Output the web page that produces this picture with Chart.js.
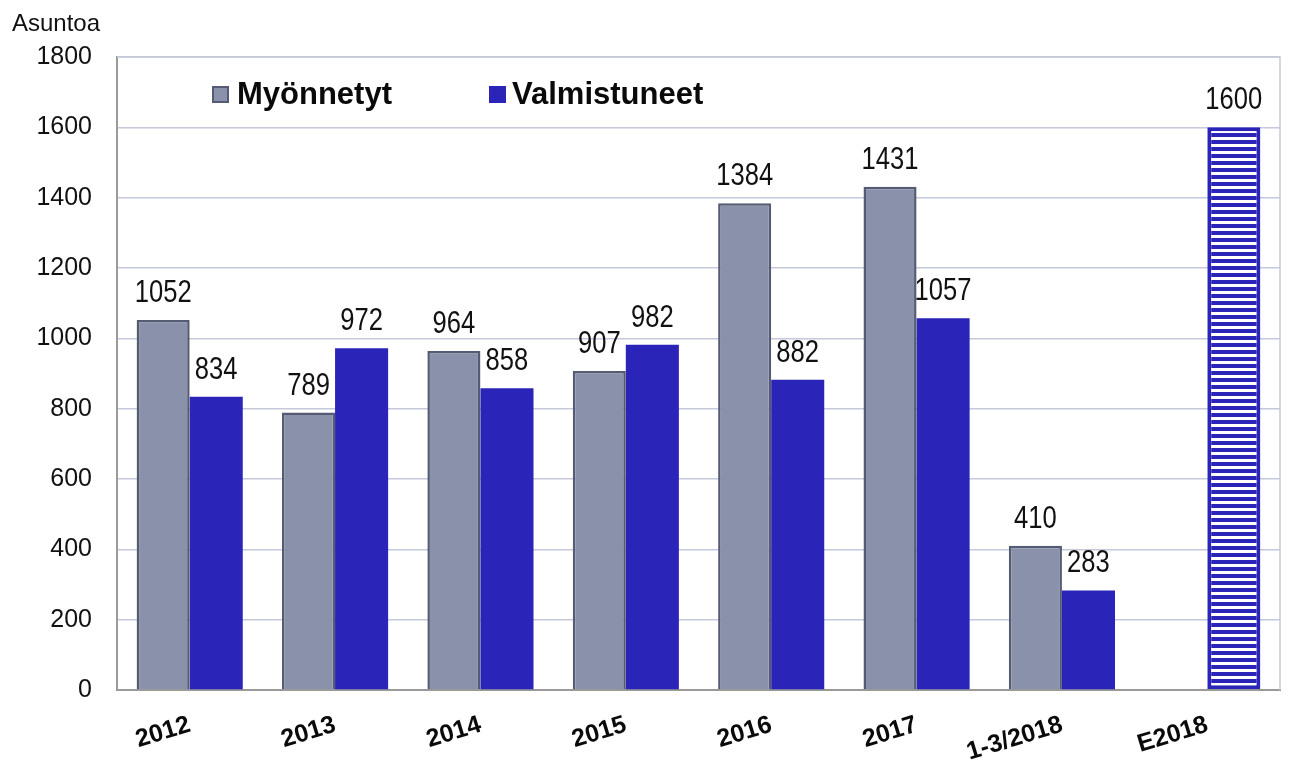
<!DOCTYPE html>
<html>
<head>
<meta charset="utf-8">
<script src="https://cdn.jsdelivr.net/npm/chart.js@4.4.1/dist/chart.umd.min.js"></script>
<style>
  html, body { margin: 0; padding: 0; background: #ffffff; }
  #wrap { position: relative; width: 1294px; height: 762px; }
  canvas { display: block; }
</style>
</head>
<body>
<div id="wrap"><canvas id="c" width="1294" height="762"></canvas></div>
<script>
const categories = ['2012', '2013', '2014', '2015', '2016', '2017', '1-3/2018', 'E2018'];
const myonnetyt = [1052, 789, 964, 907, 1384, 1431, 410, null];
const valmistuneet = [834, 972, 858, 982, 882, 1057, 283, 1600];
const estimateFlags = [false, false, false, false, false, false, false, true];
const seriesNames = ['Myönnetyt', 'Valmistuneet'];
const yAxisUnit = 'Asuntoa';
const yMin = 0, yMax = 1800, yStep = 200;

const FONT = '"Liberation Sans", Arial, Helvetica, sans-serif';
const GRAY = '#8a92ab';
const GRAY_BORDER = '#555b72';
const BLUE = '#2b24b8';
const GRID = '#c6c9dc';
const AXIS = '#9a9a9a';

// striped pattern for estimate bar
function makeStripes() {
  const p = document.createElement('canvas');
  p.width = 8; p.height = 7;
  const g = p.getContext('2d');
  g.fillStyle = BLUE; g.fillRect(0, 0, 8, 7);
  g.fillStyle = '#ffffff'; g.fillRect(0, 4, 8, 3);
  return document.getElementById('c').getContext('2d').createPattern(p, 'repeat');
}
const stripes = makeStripes();

const valBg = valmistuneet.map((v, i) => estimateFlags[i] ? stripes : BLUE);
const valBorderW = valmistuneet.map((v, i) => estimateFlags[i] ? 4 : 0);

const labelPlugin = {
  id: 'barLabels',
  afterDatasetsDraw(chart) {
    const ctx = chart.ctx;
    ctx.save();
    ctx.fillStyle = '#111111';
    ctx.font = '32px ' + FONT;
    ctx.textAlign = 'center';
    ctx.textBaseline = 'alphabetic';
    chart.data.datasets.forEach((ds, di) => {
      const meta = chart.getDatasetMeta(di);
      meta.data.forEach((el, i) => {
        const v = ds.data[i];
        if (v === null || v === undefined) return;
        ctx.save();
        ctx.translate(el.x, el.y - 18);
        ctx.scale(0.8, 1);
        ctx.fillText(String(v), 0, 0);
        ctx.restore();
      });
    });
    ctx.restore();
  }
};

const framePlugin = {
  id: 'frame',
  afterDraw(chart) {
    const ctx = chart.ctx;
    const a = chart.chartArea;
    ctx.save();
    // top and right frame lines
    ctx.strokeStyle = GRID;
    ctx.lineWidth = 1.5;
    ctx.beginPath();
    ctx.moveTo(a.left, a.top);
    ctx.lineTo(a.right, a.top);
    ctx.lineTo(a.right, a.bottom);
    ctx.stroke();
    // unit label
    ctx.fillStyle = '#111111';
    ctx.font = '24px ' + FONT;
    ctx.textAlign = 'left';
    ctx.textBaseline = 'alphabetic';
    ctx.fillText(yAxisUnit, 12, 31);
    // legend
    const items = [
      { box: 212, text: 237, fill: GRAY, stroke: GRAY_BORDER, sw: 2 },
      { box: 489, text: 512, fill: BLUE, stroke: BLUE, sw: 0 }
    ];
    ctx.font = 'bold 31px ' + FONT;
    ctx.textBaseline = 'middle';
    items.forEach((it, i) => {
      ctx.fillStyle = it.fill;
      ctx.fillRect(it.box, 86, 17, 17);
      if (it.sw) {
        ctx.strokeStyle = it.stroke;
        ctx.lineWidth = it.sw;
        ctx.strokeRect(it.box + 1, 87, 15, 15);
      }
      ctx.fillStyle = '#0a0a0a';
      ctx.fillText(seriesNames[i], it.text, 95);
    });
    ctx.restore();
  }
};

new Chart(document.getElementById('c'), {
  type: 'bar',
  data: {
    labels: categories,
    datasets: [
      {
        label: seriesNames[0],
        data: myonnetyt,
        backgroundColor: GRAY,
        borderColor: GRAY_BORDER,
        borderWidth: 2.5,
        borderSkipped: 'bottom',
        categoryPercentage: 0.73,
        barPercentage: 1.0
      },
      {
        label: seriesNames[1],
        data: valmistuneet,
        backgroundColor: valBg,
        borderColor: BLUE,
        borderWidth: valBorderW,
        borderSkipped: false,
        categoryPercentage: 0.73,
        barPercentage: 1.0
      }
    ]
  },
  options: {
    responsive: false,
    animation: false,
    devicePixelRatio: 1,
    layout: { padding: { top: 57, right: 14, bottom: 0, left: 0 } },
    plugins: {
      legend: { display: false },
      tooltip: { enabled: false },
      title: { display: false }
    },
    scales: {
      x: {
        grid: { display: false },
        border: { display: true, color: AXIS, width: 2 },
        ticks: {
          color: '#0a0a0a',
          font: { family: FONT, size: 25, weight: 'bold' },
          minRotation: 17,
          maxRotation: 17,
          autoSkip: false,
          padding: 12
        },
        afterFit(scale) { scale.height = 72; }
      },
      y: {
        min: yMin,
        max: yMax,
        ticks: {
          stepSize: yStep,
          color: '#111111',
          font: { family: FONT, size: 25 },
          padding: 25,
          callback: (v) => String(v)
        },
        grid: { color: GRID, lineWidth: 1.5, drawTicks: false },
        border: { display: true, color: AXIS, width: 2 },
        afterFit(scale) { scale.width = 117; }
      }
    }
  },
  plugins: [labelPlugin, framePlugin]
});
</script>
</body>
</html>
